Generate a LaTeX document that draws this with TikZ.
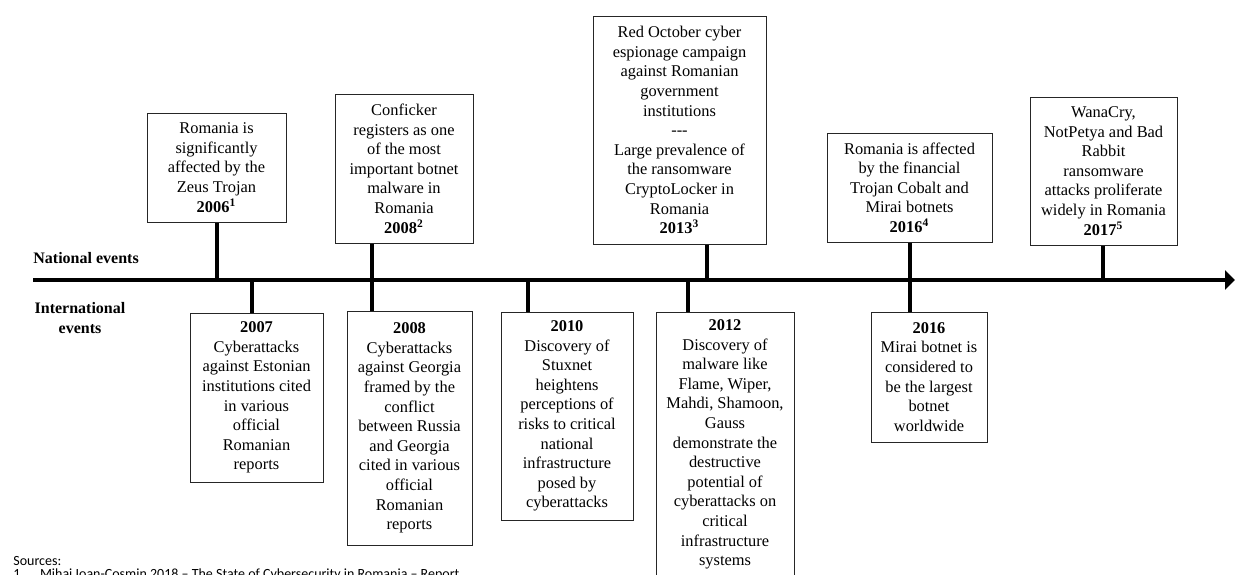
\documentclass[tikz,border=0pt]{standalone}
\usepackage{fontspec}
\setmainfont{Liberation Serif}
\newfontfamily\srcfont{Carlito}
\usetikzlibrary{arrows.meta}

\begin{document}
\begin{tikzpicture}[x=0.5pt,y=-0.5pt,
    evbox/.style={draw=black!85,line width=0.5pt,align=center,inner sep=2pt,
        font=\fontsize{8.2}{9.8}\selectfont},
    stem/.style={line width=1.8pt},
    axis/.style={line width=2pt,-{Triangle[length=5pt,width=9.5pt]}},
    lbl/.style={font=\fontsize{8}{10}\selectfont\bfseries,inner sep=0pt},
    srctext/.style={anchor=base west,inner sep=0pt,font=\srcfont\fontsize{7}{8.5}\selectfont}]
    \useasboundingbox (0,0) rectangle (1235,574);
    \clip (0,0) rectangle (1235,574);

    %timeline
    \coordinate (tl) at (33,280);
    \coordinate (tr) at (1235,280);
    \draw[axis] (tl) -- (tr);
    \node[lbl,anchor=west] (nat) at (33,258) {National events};
    \node[lbl,align=center] (intl) at (80,318) {International\\events};

    %points on the timeline
    \coordinate (t2006) at (217,280);
    \coordinate (t2007) at (252,280);
    \coordinate (t2008) at (372,280);
    \coordinate (t2010) at (528,280);
    \coordinate (t2012) at (688,280);
    \coordinate (t2013) at (707,280);
    \coordinate (t2016) at (910,280);
    \coordinate (t2017) at (1103,280);

    %national events
    \node[evbox,minimum width=69.5pt,minimum height=54.5pt] (n2006) at (216.5,167.5)
        {Romania is\\significantly\\affected by the\\Zeus Trojan\\\textbf{2006\textsuperscript{1}}};
    \node[evbox,minimum width=69pt,minimum height=74.5pt] (n2008) at (404,168.5)
        {Conficker\\registers as one\\of the most\\important botnet\\malware in\\Romania\\\textbf{2008\textsuperscript{2}}};
    \node[evbox,minimum width=86.5pt,minimum height=114pt] (n2013) at (679.5,130)
        {Red October cyber\\espionage campaign\\against Romanian\\government\\institutions\\-{}-{}-\\Large prevalence of\\the ransomware\\CryptoLocker in\\Romania\\\textbf{2013\textsuperscript{3}}};
    \node[evbox,minimum width=82.5pt,minimum height=54.5pt] (n2016) at (909.5,187.5)
        {Romania is affected\\by the financial\\Trojan Cobalt and\\Mirai botnets\\\textbf{2016\textsuperscript{4}}};
    \node[evbox,minimum width=73.5pt,minimum height=74pt] (n2017) at (1103.5,171)
        {WanaCry,\\NotPetya and Bad\\Rabbit\\ransomware\\attacks proliferate\\widely in Romania\\\textbf{2017\textsuperscript{5}}};

    %international events
    \node[evbox,minimum width=66.5pt,minimum height=84.5pt] (i2007) at (256.5,397.5)
        {\textbf{2007}\\Cyberattacks\\against Estonian\\institutions cited\\in various\\official\\Romanian\\reports};
    \node[evbox,minimum width=62.5pt,minimum height=117pt] (i2008) at (409.5,428)
        {\textbf{2008}\\Cyberattacks\\against Georgia\\framed by the\\conflict\\between Russia\\and Georgia\\cited in various\\official\\Romanian\\reports};
    \node[evbox,minimum width=66pt,minimum height=104pt] (i2010) at (567,416)
        {\textbf{2010}\\Discovery of\\Stuxnet\\heightens\\perceptions of\\risks to critical\\national\\infrastructure\\posed by\\cyberattacks};
    \node[evbox,minimum width=69pt,minimum height=132.5pt] (i2012) at (725,444.5)
        {\textbf{2012}\\Discovery of\\malware like\\Flame, Wiper,\\Mahdi, Shamoon,\\Gauss\\demonstrate the\\destructive\\potential of\\cyberattacks on\\critical\\infrastructure\\systems};
    \node[evbox,minimum width=58pt,minimum height=65pt] (i2016) at (929,377)
        {\textbf{2016}\\Mirai botnet is\\considered to\\be the largest\\botnet\\worldwide};

    %stems
    \draw[stem] (n2006.south -| t2006) -- (t2006);
    \draw[stem] (n2008.south -| t2008) -- (i2008.north -| t2008);
    \draw[stem] (n2013.south -| t2013) -- (t2013);
    \draw[stem] (n2016.south -| t2016) -- (i2016.north -| t2016);
    \draw[stem] (n2017.south -| t2017) -- (t2017);
    \draw[stem] (t2007) -- (i2007.north -| t2007);
    \draw[stem] (t2010) -- (i2010.north -| t2010);
    \draw[stem] (t2012) -- (i2012.north -| t2012);

    %sources
    \node[srctext] (src) at (13,565) {Sources:};
    \node[srctext] (src1) at (13,578)
        {1.\hspace{8pt}Mihai Ioan-Cosmin 2018 – The State of Cybersecurity in Romania – Report};
\end{tikzpicture}
\end{document}
